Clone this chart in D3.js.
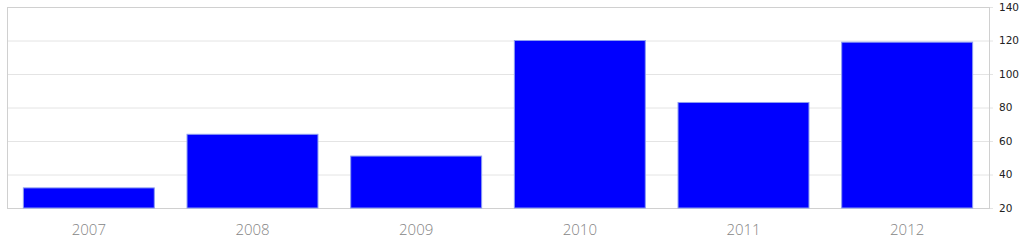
<!DOCTYPE html>
<html>
<head>
<meta charset="utf-8">
<script src="https://cdn.jsdelivr.net/npm/d3@7"></script>
<style>
  body { margin: 0; background: #fff; }
  .grid line { stroke: #e4e4e4; }
  .grid path { display: none; }
  .yaxis text { font-family: "DejaVu Sans", Verdana, sans-serif; font-size: 10.5px; fill: #222; }
  .yaxis path { display: none; }
  .yaxis line { stroke: #e4e4e4; }
  .xlabel { font-family: "Open Sans", sans-serif; font-weight: 300; font-size: 15px; fill: #858585; }
</style>
</head>
<body>
<svg id="chart" width="1024" height="244"></svg>
<script>
var years = ["2007", "2008", "2009", "2010", "2011", "2012"];
var values = [32, 64, 51, 120, 83, 119];
var yTicks = [20, 40, 60, 80, 100, 120, 140];

var margin = {top: 7, right: 35, bottom: 36, left: 7},
    width = 1024 - margin.left - margin.right,
    height = 244 - margin.top - margin.bottom;

var svg = d3.select("#chart");
var g = svg.append("g").attr("transform", "translate(" + margin.left + "," + margin.top + ")");

var x = d3.scaleBand().domain(years).range([0, width]).paddingInner(0.2).paddingOuter(0.1);
var y = d3.scaleLinear().domain([20, 140]).range([height, 0]);

// gridlines
g.append("g").attr("class", "grid")
    .call(d3.axisLeft(y).tickValues(yTicks).tickSize(-width).tickFormat(""));

// right axis with short ticks
g.append("g").attr("class", "yaxis")
    .attr("transform", "translate(" + width + ",0)")
    .call(d3.axisRight(y).tickValues(yTicks).tickSize(4).tickPadding(6));

// frame
g.append("rect")
    .attr("x", 0.5).attr("y", 0.5)
    .attr("width", width).attr("height", height)
    .attr("fill", "none").attr("stroke", "#d0d0d0");

// bars
g.selectAll("rect.bar").data(values).enter().append("rect")
    .attr("class", "bar")
    .attr("x", function (d, i) { return x(years[i]); })
    .attr("y", function (d) { return y(d); })
    .attr("width", x.bandwidth())
    .attr("height", function (d) { return height - y(d); })
    .attr("fill", "#0000ff")
    .attr("stroke", "#8c9cf0")
    .attr("stroke-width", 1);

// category labels
g.selectAll("text.xlabel").data(years).enter().append("text")
    .attr("class", "xlabel")
    .attr("x", function (d) { return x(d) + x.bandwidth() / 2; })
    .attr("y", height + 27)
    .attr("text-anchor", "middle")
    .text(function (d) { return d; });
</script>
</body>
</html>
